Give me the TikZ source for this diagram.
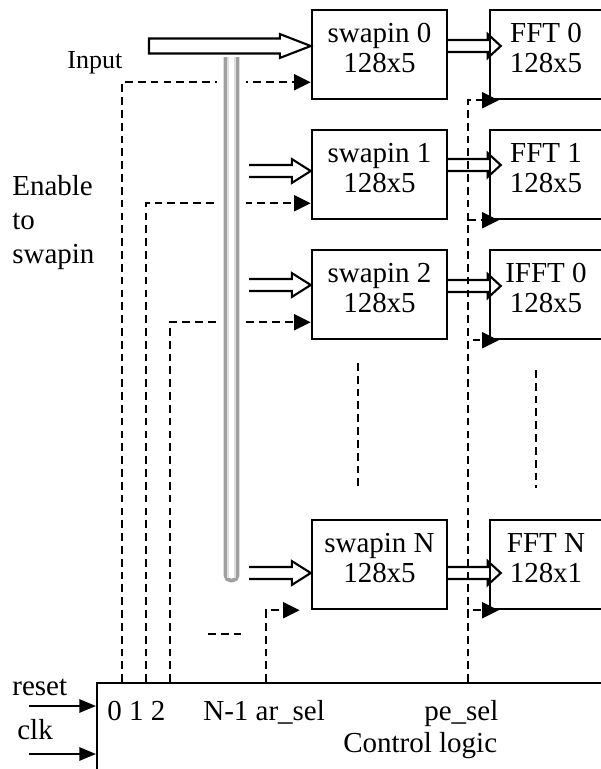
\documentclass[tikz,border=0pt]{standalone}
\usepackage{fontspec}
\setmainfont{Liberation Serif}
\usetikzlibrary{arrows.meta, calc}
\usetikzlibrary{positioning}

\newcommand{\lowpad}{\rule[-7.4pt]{0pt}{7.4pt}}
% wide hollow arrow: [closing], start, tip, shaft half, head half, head length
\newcommand{\fatarrow}[6][]{%
  \draw[fat] let \p1=(#2), \p2=(#3) in
    (\x1,\y1+#4) -- (\x2-#6,\y1+#4) -- (\x2-#6,\y1+#5) -- (\x2,\y1)
    -- (\x2-#6,\y1-#5) -- (\x2-#6,\y1-#4) -- (\x1,\y1-#4) #1;}

\tikzset{
  blk/.style={draw, line width=1.4pt, minimum height=1.78cm, inner sep=0pt, align=center},
  swbox/.style={blk, minimum width=2.7cm},
  fftbox/.style={blk, minimum width=2.24cm},
  fat/.style={line width=1.2pt},
  enline/.style={line width=1.4pt, dash pattern=on 4.4pt off 2.9pt, -{Triangle[length=9.5pt,width=9pt]}},
  dotline/.style={line width=1.4pt, dash pattern=on 4.4pt off 2.9pt},
  sig/.style={line width=1.4pt, -{Triangle[length=9.5pt,width=7.5pt]}},
  lbl/.style={inner sep=0pt, anchor=base west},
}

\begin{document}
\begin{tikzpicture}[x=0.02cm, y=-0.02cm, font=\fontsize{16.5}{17}\selectfont]
\useasboundingbox (0,0) rectangle (600,769);

% swapin blocks
\node[swbox] (sw0) at (379.5,54.5) {swapin 0\\128x5\lowpad};
\node[swbox] (sw1) at (379.5,174.5) {swapin 1\\128x5\lowpad};
\node[swbox] (sw2) at (379.5,294.5) {swapin 2\\128x5\lowpad};
\node[swbox] (swN) at (379.5,564.5) {swapin N\\128x5\lowpad};

% FFT blocks
\node[fftbox] (fft0) at (546,54.5) {FFT 0\\128x5\lowpad};
\node[fftbox] (fft1) at (546,174.5) {FFT 1\\128x5\lowpad};
\node[fftbox] (ifft0) at (546,294.5) {IFFT 0\\128x5\lowpad};
\node[fftbox] (fftN) at (546,564.5) {FFT N\\128x1\lowpad};

% control logic
\node[draw, line width=1.4pt, anchor=north west, minimum width=12cm, minimum height=3cm] (ctrl) at (96,682) {};
\node[lbl] (bits) at (107,720) {0 1 2};
\node[lbl] (arsel) at (203,720) {N-1 ar\_sel};
\node[lbl] (pesel) at (424,720) {pe\_sel};
\node[lbl] (ctrlname) at (343,752) {Control logic};

% labels
\node[lbl, font=\fontsize{14.8}{17}\selectfont] (inlbl) at (67,68) {Input};
\node[lbl, align=left, font=\fontsize{16.5}{19.3}\selectfont] (enlbl) at (12,263) {Enable\\to\\swapin};
\node[lbl] (rstlbl) at (12,695) {reset};
\node[lbl] (clklbl) at (17,739) {clk};

% enable lines
\coordinate (en0) at (122,682);
\coordinate (en1) at (146,682);
\coordinate (en2) at (170,682);
\coordinate (enN) at (266,682);
\coordinate (pe) at (468,682);
\draw[enline] (en0) |- ([yshift=0.36cm]sw0.south west);
\draw[enline] (en1) |- ([yshift=0.34cm]sw1.south west);
\draw[enline] (en2) |- ([yshift=0.36cm]sw2.south west);
\draw[enline] (enN) |- ([xshift=-0.22cm]swN.south west);
\draw[dotline] (208,634) -- (243,634);
\foreach \b in {fft0,fft1,ifft0,fftN}
  \draw[enline] (pe) |- ([xshift=0.2cm]\b.south west);

% vertical dots
\draw[dotline] (358,363) -- (358,490);
\draw[dotline] (536,370) -- (536,488);

% input bus
\draw[white, line width=17pt] (231.5,57) -- (231.5,590);
\draw[gray!75, line width=2.2pt, rounded corners=3pt] (225.5,57) -- (225.5,580.5) -- (237.5,580.5) -- (237.5,57);
\draw[gray!25, line width=0.8pt] (228,57) -- (228,578);
\draw[gray!25, line width=0.8pt] (235,57) -- (235,578);

% data arrows
\coordinate (in0) at (149,46);
\coordinate (in1) at (249,171);
\coordinate (in2) at (249,285);
\coordinate (inN) at (249,573);
\fatarrow[-- cycle]{in0}{sw0.west |- in0}{4.25pt}{6.8pt}{17.6pt}
\fatarrow{in1}{sw1.west |- in1}{3.4pt}{6.8pt}{10.8pt}
\fatarrow{in2}{sw2.west |- in2}{3.4pt}{6.8pt}{10.8pt}
\fatarrow{inN}{swN.west |- inN}{3.4pt}{6.8pt}{10.8pt}

\coordinate (out0) at ([yshift=0.17cm]sw0.east);
\coordinate (out1) at ([yshift=0.19cm]sw1.east);
\coordinate (out2) at ([yshift=0.17cm]sw2.east);
\coordinate (outN) at ([yshift=-0.17cm]swN.east);
\fatarrow{out0}{$(fft0.west |- out0)+(12,0)$}{3.4pt}{6.8pt}{7.4pt}
\fatarrow{out1}{$(fft1.west |- out1)+(12,0)$}{3.4pt}{6.8pt}{7.4pt}
\fatarrow{out2}{$(ifft0.west |- out2)+(12,0)$}{3.4pt}{6.8pt}{7.4pt}
\fatarrow{outN}{$(fftN.west |- outN)+(12,0)$}{3.4pt}{6.8pt}{7.4pt}

% reset and clock
\coordinate (rst) at (29,706);
\coordinate (clk) at (29,754);
\draw[sig] (rst) -- (rst -| ctrl.west);
\draw[sig] (clk) -- (clk -| ctrl.west);
\end{tikzpicture}
\end{document}
